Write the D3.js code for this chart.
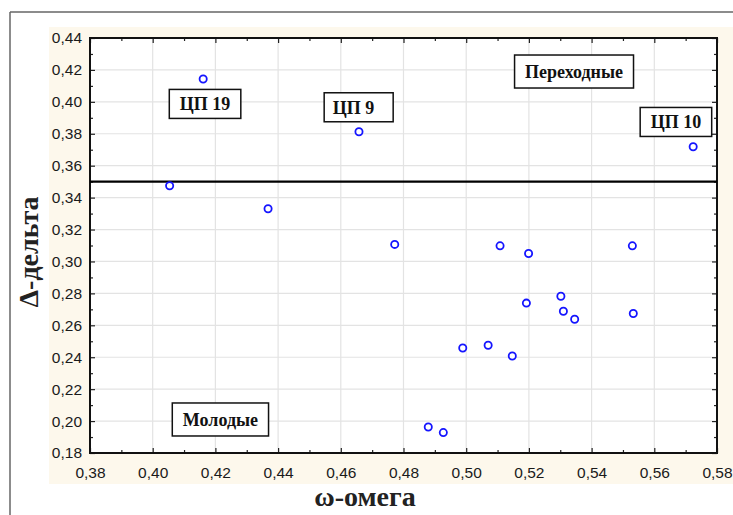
<!DOCTYPE html>
<html><head><meta charset="utf-8">
<script src="https://cdn.jsdelivr.net/npm/d3@7"></script>
<style>html,body{margin:0;padding:0;background:#fff;}svg{display:block;}</style>
</head><body>
<script>
// Data
const omega = [0.4161,0.4054,0.4658,0.5724,0.4368,0.4772,0.5108,0.5199,0.5530,0.5192,0.5302,0.5310,0.5346,0.5533,0.4989,0.5070,0.5147,0.4879,0.4927];
const delta = [0.4143,0.3474,0.3813,0.3719,0.3330,0.3107,0.3098,0.3050,0.3098,0.2739,0.2782,0.2688,0.2638,0.2674,0.2458,0.2475,0.2408,0.1963,0.1928];
const xTicks = [0.38,0.40,0.42,0.44,0.46,0.48,0.50,0.52,0.54,0.56,0.58];
const yTicks = [0.18,0.20,0.22,0.24,0.26,0.28,0.30,0.32,0.34,0.36,0.38,0.40,0.42,0.44];
const threshold = [0.35];
const labelTexts = ["ЦП 19","ЦП 9","ЦП 10","Переходные","Молодые"];
const labelX = [0.4167,0.4657,0.5669,0.5344,0.4216];   // box centre (data units)
const labelY = [0.3987,0.3966,0.3874,0.4190,0.2010];
const xTitle = "ω-омега";
const yTitle = "Δ-дельта";

const W = 733, H = 515;
const L = 90, R = 717, T = 38, B = 453;
const svg = d3.select("body").append("svg").attr("width", W).attr("height", H);

// outer frame
svg.append("line").attr("x1",10).attr("x2",10).attr("y1",12).attr("y2",H).attr("stroke","#666").attr("stroke-width",1.5);
svg.append("line").attr("x1",10).attr("x2",W).attr("y1",12).attr("y2",12).attr("stroke","#666").attr("stroke-width",1.5);
// cream background
svg.append("rect").attr("x",49).attr("y",27).attr("width",W-49).attr("height",484-27).attr("fill","#fdf8ec");
svg.append("rect").attr("x",L).attr("y",T).attr("width",R-L).attr("height",B-T).attr("fill","#fff");

const x = d3.scaleLinear().domain([0.38,0.58]).range([L,R]);
const y = d3.scaleLinear().domain([0.18,0.44]).range([B,T]);

// grid
const g = svg.append("g");
g.selectAll(".vg").data(xTicks).join("line").attr("x1",d=>x(d)).attr("x2",d=>x(d)).attr("y1",T).attr("y2",B).attr("stroke","#e3e3e3").attr("stroke-width",1.2);
g.selectAll(".hg").data(yTicks).join("line").attr("y1",d=>y(d)).attr("y2",d=>y(d)).attr("x1",L).attr("x2",R).attr("stroke","#e3e3e3").attr("stroke-width",1.2);

const fmt = d => d3.format(".2f")(d).replace(".", ",");
const xMinor = d3.range(0,10).map(i => 0.39 + i*0.02);
const yMinor = d3.range(0,13).map(i => 0.19 + i*0.02);

function styleAxis(sel){ sel.select(".domain").remove(); sel.selectAll(".tick line").attr("stroke","#222").attr("stroke-width",1.2);
  sel.selectAll("text").attr("font-family","Liberation Sans, Arial, sans-serif").attr("font-size","15.5px").attr("fill","#1a1a1a"); }

// bottom
svg.append("g").attr("transform",`translate(0,${B})`).call(d3.axisBottom(x).tickValues(xTicks).tickFormat(fmt).tickSize(-5).tickPadding(14)).call(styleAxis);
svg.append("g").attr("transform",`translate(0,${B})`).call(d3.axisBottom(x).tickValues(xMinor).tickFormat("").tickSize(-3)).call(styleAxis);
// top
svg.append("g").attr("transform",`translate(0,${T})`).call(d3.axisTop(x).tickValues(xTicks).tickFormat("").tickSize(-5)).call(styleAxis);
svg.append("g").attr("transform",`translate(0,${T})`).call(d3.axisTop(x).tickValues(xMinor).tickFormat("").tickSize(-3)).call(styleAxis);
// left
svg.append("g").attr("transform",`translate(${L},0)`).call(d3.axisLeft(y).tickValues(yTicks).tickFormat(fmt).tickSize(-5).tickPadding(8)).call(styleAxis);
svg.append("g").attr("transform",`translate(${L},0)`).call(d3.axisLeft(y).tickValues(yMinor).tickFormat("").tickSize(-3)).call(styleAxis);
// right
svg.append("g").attr("transform",`translate(${R},0)`).call(d3.axisRight(y).tickValues(yTicks).tickFormat("").tickSize(-5)).call(styleAxis);
svg.append("g").attr("transform",`translate(${R},0)`).call(d3.axisRight(y).tickValues(yMinor).tickFormat("").tickSize(-3)).call(styleAxis);

// plot frame
svg.append("rect").attr("x",L).attr("y",T).attr("width",R-L).attr("height",B-T).attr("fill","none").attr("stroke","#111").attr("stroke-width",2);

// threshold line
svg.selectAll(".thr").data(threshold).join("line").attr("x1",L).attr("x2",R).attr("y1",d=>y(d)).attr("y2",d=>y(d)).attr("stroke","#000").attr("stroke-width",2.2);

// points
svg.selectAll(".pt").data(omega.map((o,i)=>[o,delta[i]])).join("circle")
  .attr("cx",d=>x(d[0])).attr("cy",d=>y(d[1])).attr("r",3.6)
  .attr("fill","#fff").attr("stroke","#1515ff").attr("stroke-width",1.8);

// labels (box centred on given point, text centred in box)
const lab = svg.selectAll(".lab").data(labelTexts).join("g").attr("transform",(d,i)=>`translate(${x(labelX[i])},${y(labelY[i])})`);
lab.append("text").text(d=>d).attr("text-anchor","middle").attr("dy","0.35em")
  .attr("font-family","Liberation Serif, Times New Roman, serif").attr("font-weight","bold").attr("font-size","18px").attr("fill","#111");
lab.each(function(d){
  const gg = d3.select(this); const bb = gg.select("text").node().getBBox();
  const bw = Math.max(bb.width + 21, 69);
  const bh = d.length > 6 ? 33 : 29;
  gg.insert("rect","text").attr("x",-bw/2).attr("y",-bh/2).attr("width",bw).attr("height",bh)
    .attr("fill","#fff").attr("stroke","#111").attr("stroke-width",1.5);
  if (bb.width + 21 < 69) gg.select("text").attr("text-anchor","start").attr("x", -bw/2 + 8.5);
});

// axis titles
svg.append("text").text(xTitle).attr("x",365).attr("y",506).attr("text-anchor","middle")
  .attr("font-family","Liberation Serif, Times New Roman, serif").attr("font-weight","bold").attr("font-size","28px").attr("fill","#222");
svg.append("text").text(yTitle).attr("transform","translate(38,252) rotate(-90)").attr("text-anchor","middle")
  .attr("font-family","Liberation Serif, Times New Roman, serif").attr("font-weight","bold").attr("font-size","28px").attr("fill","#222");
</script>
</body></html>
